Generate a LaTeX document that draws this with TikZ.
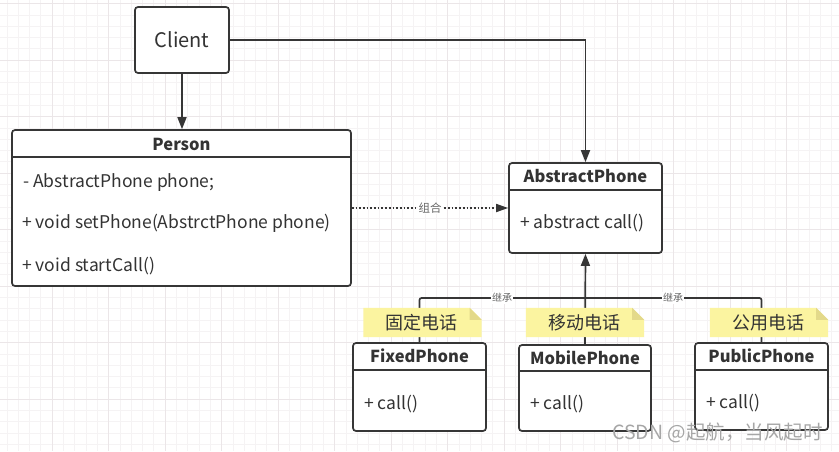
\documentclass[tikz,border=0pt]{standalone}
\usepackage{fontspec}
\setmainfont{Noto Sans CJK SC}
\usetikzlibrary{arrows.meta,calc}
\definecolor{ink}{HTML}{363636}
\definecolor{txt}{HTML}{333333}
\definecolor{noteY}{HTML}{FBF4A0}
\definecolor{foldY}{HTML}{E3D98A}
\definecolor{gridmaj}{HTML}{EBE6E8}
\definecolor{gridmin}{HTML}{F5F3F4}
\tikzset{
  classbox/.style={draw=ink, line width=1.7pt, rounded corners=3pt, fill=white, inner sep=0pt},
  titletxt/.style={font=\bfseries\fontsize{16.5}{18}\selectfont, text=txt, inner sep=0pt},
  rowtxt/.style={font=\fontsize{17.5}{19}\selectfont, text=txt, inner sep=0pt, anchor=west},
  conn/.style={draw=ink, line width=1.7pt},
  tip/.style={-{Triangle[length=12pt,width=9pt]}},
  notebox/.style={inner sep=0pt, font=\fontsize{18}{20}\selectfont, text=txt},
  smalllbl/.style={font=\fontsize{10}{11}\selectfont, text=gray!80!black, fill=white, inner sep=1pt},
}
\begin{document}
\begin{tikzpicture}[x=1pt,y=-1pt]
\useasboundingbox (0,0) rectangle (839,451);
\fill[white] (0,0) rectangle (839,451);
% grid
\foreach \i in {0,...,75} {
  \draw[gridmin, line width=0.6pt] ({-4.5+11.3*\i},0) -- ({-4.5+11.3*\i},451);
}
\foreach \i in {0,...,40} {
  \draw[gridmin, line width=0.6pt] (0,{3.5+11.3*\i}) -- (839,{3.5+11.3*\i});
}
\foreach \i in {0,...,15} {
  \draw[gridmaj, line width=0.8pt] ({-4.5+56.5*\i},0) -- ({-4.5+56.5*\i},451);
}
\foreach \i in {0,...,8} {
  \draw[gridmaj, line width=0.8pt] (0,{3.5+56.5*\i}) -- (839,{3.5+56.5*\i});
}

% nodes
\node[classbox, minimum width=94pt, minimum height=66pt, font=\fontsize{20}{22}\selectfont, text=txt] (client) at (182,40) {Client};
\node[classbox, minimum width=339pt, minimum height=156pt] (person) at (181.5,208) {};
\node[classbox, minimum width=153pt, minimum height=90pt] (abs) at (585.5,208) {};
\node[classbox, minimum width=133pt, minimum height=88pt] (fixed) at (419.5,387) {};
\node[classbox, minimum width=132pt, minimum height=86pt] (mobile) at (585,388) {};
\node[classbox, minimum width=133pt, minimum height=87pt] (public) at (761.5,386.5) {};

% header separators
\draw[ink, line width=1.7pt] ($(person.north west)+(0,28)$) -- ($(person.north east)+(0,28)$);
\draw[ink, line width=1.7pt] ($(abs.north west)+(0,28)$) -- ($(abs.north east)+(0,28)$);
\draw[ink, line width=1.7pt] ($(fixed.north west)+(0,28)$) -- ($(fixed.north east)+(0,28)$);
\draw[ink, line width=1.7pt] ($(mobile.north west)+(0,27)$) -- ($(mobile.north east)+(0,27)$);
\draw[ink, line width=1.7pt] ($(public.north west)+(0,28)$) -- ($(public.north east)+(0,28)$);

% titles and rows
\node[titletxt] (persont) at ($(person.north)+(0,15)$) {Person};
\node[rowtxt] (pr1) at (23,183) {- AbstractPhone phone;};
\node[rowtxt] (pr2) at (22,223) {+ void setPhone(AbstrctPhone phone)};
\node[rowtxt] (pr3) at (22,266) {+ void startCall()};
\node[titletxt] (abst) at ($(abs.north)+(0,14)$) {AbstractPhone};
\node[rowtxt] (absr) at (520,223) {+ abstract call()};
\node[titletxt] (fixedt) at ($(fixed.north)+(0,14)$) {FixedPhone};
\node[rowtxt] (fixedr) at (364,404) {+ call()};
\node[titletxt] (mobilet) at ($(mobile.north)+(0,14)$) {MobilePhone};
\node[rowtxt] (mobiler) at (530,404) {+ call()};
\node[titletxt] (publict) at ($(public.north)+(0,14)$) {PublicPhone};
\node[rowtxt] (publicr) at (706,403) {+ call()};

% connectors
\draw[conn, tip] (client.south) -- (client.south |- person.north);
\draw[conn, tip] (client.east) -| (abs.north);
\draw[ink, line width=1.7pt, dotted, -{Triangle[length=12pt,width=8pt]}] (person.east |- abs.west) -- node[smalllbl, font=\fontsize{11.5}{12}\selectfont] (zh) {组合} (abs.west);
\coordinate (busL) at (419.5,298);
\coordinate (busR) at (761.5,298);
\draw[conn, rounded corners=2pt] (fixed.north) -- (busL) -- (busR) -- (public.north);
\draw[conn, tip] (mobile.north) -- (abs.south);
\node[smalllbl] (jc1) at (502,298) {继承};
\node[smalllbl] (jc2) at (673,298) {继承};

% notes
\foreach \nm/\cx/\tx in {n1/422.5/固定电话, n2/585/移动电话, n3/769/公用电话} {
  \node[notebox, minimum width=118pt, minimum height=29pt] (\nm) at (\cx,322.5) {};
  \fill[noteY] (\nm.north west) -- ($(\nm.north east)+(-12,0)$) -- ($(\nm.north east)+(0,12)$) -- (\nm.south east) -- (\nm.south west) -- cycle;
  \fill[foldY] ($(\nm.north east)+(-12,0)$) -- ($(\nm.north east)+(-12,12)$) -- ($(\nm.north east)+(0,12)$) -- cycle;
  \node[notebox] (\nm t) at ($(\nm.center)+(-1,0)$) {\tx};
}

% watermark
\node[font=\fontsize{19.5}{21}\selectfont, text=gray!70, anchor=west, inner sep=0pt] (wm) at (612,433) {CSDN @起航，当风起时};
\end{tikzpicture}
\end{document}
